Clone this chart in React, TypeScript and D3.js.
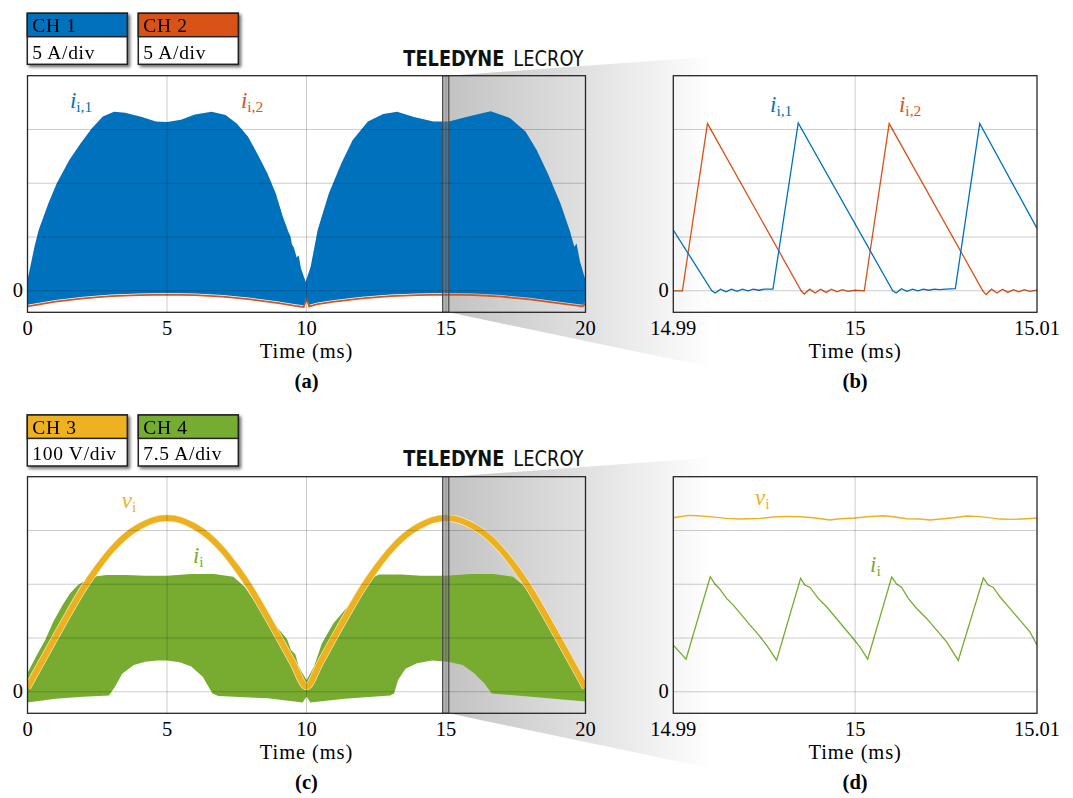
import React from "react";
import * as d3 from "d3";

const W = 1073, H = 798;

const BLUE = "#0072BD", ORANGE = "#D95319", YELLOW = "#EDB120", GREEN = "#77AC30";
const SERIF = "'Liberation Serif', 'Times New Roman', serif";

// ---------- panel (a): 0..20 ms, values in divisions ----------
const aUpperT = [0, 0.25, 0.4, 0.75, 1.05, 1.5, 1.9, 2.3, 2.7, 3.1, 3.5, 4.1, 4.6, 5.0, 5.5, 6.0, 6.6, 7.1, 7.5, 7.9, 8.3, 8.6, 8.9, 9.15, 9.35, 9.42, 9.48, 9.55, 9.65, 9.72, 9.8, 9.97, 10.15, 10.4, 10.8, 11.25, 11.65, 12.2, 12.75, 13.25, 13.85, 14.55, 15.1, 15.8, 16.6, 17.3, 17.85, 18.25, 18.65, 19.1, 19.45, 19.5, 19.6, 19.68, 19.8, 20];
const aUpperCh1 = [0.2, 0.82, 1.13, 1.63, 2.0, 2.43, 2.74, 3.02, 3.24, 3.33, 3.31, 3.23, 3.15, 3.14, 3.18, 3.28, 3.33, 3.27, 3.11, 2.87, 2.49, 2.18, 1.81, 1.38, 1.1, 1.02, 0.86, 0.8, 0.62, 0.66, 0.42, 0.17, 0.45, 1.13, 1.81, 2.37, 2.8, 3.15, 3.29, 3.33, 3.23, 3.15, 3.15, 3.24, 3.34, 3.21, 2.96, 2.62, 2.18, 1.63, 1.1, 1.0, 0.82, 0.88, 0.55, 0.2];
const aLowerT = [0, 1, 2, 3, 4, 5, 6, 7, 8, 9, 9.6, 9.9, 10, 10.1, 10.4, 11, 12, 13, 14, 15, 16, 17, 18, 19, 19.9, 20];
const aLowerCh1 = [-0.26, -0.17, -0.11, -0.07, -0.05, -0.04, -0.05, -0.08, -0.13, -0.2, -0.25, -0.27, -0.12, -0.26, -0.22, -0.17, -0.11, -0.07, -0.05, -0.04, -0.05, -0.08, -0.13, -0.2, -0.26, -0.2];
const aLowerCh2 = [-0.29, -0.2, -0.14, -0.1, -0.08, -0.07, -0.08, -0.11, -0.16, -0.23, -0.28, -0.3, -0.15, -0.29, -0.25, -0.2, -0.14, -0.1, -0.08, -0.07, -0.08, -0.11, -0.16, -0.23, -0.29, -0.23];

// ---------- panel (b): microseconds after 14.99 ms ----------
const bCh1T = [0, 2.12, 2.3, 2.6, 2.9, 3.2, 3.5, 3.8, 4.1, 4.4, 4.7, 5.0, 5.48, 6.87, 12.07, 12.25, 12.55, 12.85, 13.15, 13.45, 13.75, 14.05, 14.35, 14.65, 15.0, 15.51, 16.85, 20];
const bCh1 = [1.13, 0, -0.04, 0.03, -0.02, 0.03, -0.01, 0.03, 0, 0.03, 0.01, 0.03, 0.03, 3.12, 0, -0.04, 0.04, -0.01, 0.03, 0, 0.03, 0.01, 0.03, 0.02, 0.03, 0.04, 3.11, 1.16];
const bCh2T = [0, 0.5, 1.88, 7.03, 7.2, 7.5, 7.8, 8.1, 8.4, 8.7, 9.0, 9.3, 9.6, 10.0, 10.5, 11.87, 17.02, 17.2, 17.5, 17.8, 18.1, 18.4, 18.7, 19.0, 19.3, 19.6, 20];
const bCh2 = [0, 0, 3.11, 0, -0.06, 0.03, -0.04, 0.03, -0.03, 0.03, -0.02, 0.02, -0.01, 0.01, 0, 3.11, 0, -0.07, 0.03, -0.04, 0.03, -0.03, 0.02, -0.02, 0.02, -0.01, 0.01];

// ---------- panel (c): 0..20 ms ----------
const cUpperT = [0, 0.33, 0.63, 0.92, 1.22, 1.52, 1.82, 2.12, 2.48, 2.84, 3.54, 4.22, 5.0, 5.87, 6.69, 7.38, 7.79, 8.2, 8.62, 9.03, 9.3, 9.44, 9.6, 9.72, 10, 10.27, 10.55, 10.96, 11.37, 11.78, 12.2, 12.6, 13.4, 14.1, 15.0, 15.9, 16.7, 17.4, 17.84, 18.26, 18.67, 19.08, 19.5, 19.77, 20];
const cUpperI = [0.35, 0.68, 0.96, 1.3, 1.58, 1.83, 1.99, 2.08, 2.15, 2.17, 2.17, 2.16, 2.16, 2.19, 2.19, 2.14, 1.95, 1.64, 1.4, 1.15, 0.98, 0.78, 0.7, 0.47, 0.22, 0.47, 0.9, 1.27, 1.52, 1.77, 2.08, 2.18, 2.18, 2.16, 2.16, 2.19, 2.19, 2.14, 1.95, 1.64, 1.36, 1.02, 0.65, 0.34, 0.16];
const cLowerT = [0, 1.0, 2.0, 2.92, 3.13, 3.4, 3.81, 4.22, 4.64, 5.0, 5.46, 5.87, 6.28, 6.63, 6.84, 8.62, 9.86, 10, 10.14, 11.37, 13.0, 13.14, 13.28, 13.55, 13.96, 14.5, 15.07, 15.6, 16.02, 16.37, 16.64, 18.26, 20];
const cLowerI = [-0.2, -0.13, -0.09, -0.07, 0.09, 0.34, 0.5, 0.56, 0.58, 0.58, 0.55, 0.47, 0.28, -0.03, -0.08, -0.12, -0.2, -0.09, -0.2, -0.13, -0.07, -0.03, 0.22, 0.43, 0.53, 0.58, 0.56, 0.5, 0.34, 0.16, -0.03, -0.1, -0.18];
const cVT = [0, 0.5, 1, 1.5, 2, 2.5, 3, 3.5, 4, 4.5, 5, 5.5, 6, 6.5, 7, 7.5, 8, 8.5, 9, 9.5, 10, 10.5, 11, 11.5, 12, 12.5, 13, 13.5, 14, 14.5, 15, 15.5, 16, 16.5, 17, 17.5, 18, 18.5, 19, 19.5, 20];
const cV = [0.08, 0.55, 1.02, 1.48, 1.92, 2.3, 2.63, 2.89, 3.07, 3.19, 3.23, 3.19, 3.07, 2.89, 2.63, 2.3, 1.92, 1.48, 1.02, 0.55, 0.1, 0.55, 1.02, 1.48, 1.92, 2.3, 2.63, 2.89, 3.07, 3.19, 3.23, 3.19, 3.07, 2.89, 2.63, 2.3, 1.92, 1.48, 1.02, 0.55, 0.08];

// ---------- panel (d): microseconds after 14.99 ms ----------
const dVT = [0, 0.37, 0.82, 1.28, 1.83, 2.38, 2.93, 3.67, 4.22, 4.77, 5.5, 6.23, 6.97, 7.7, 8.62, 9.17, 10.01, 10.63, 11.55, 12.1, 12.83, 13.56, 14.11, 14.85, 15.4, 16.13, 16.68, 17.23, 17.96, 18.7, 19.43, 20];
const dV = [3.237, 3.256, 3.281, 3.274, 3.262, 3.243, 3.225, 3.212, 3.219, 3.225, 3.25, 3.262, 3.256, 3.237, 3.194, 3.219, 3.231, 3.256, 3.274, 3.256, 3.219, 3.212, 3.194, 3.219, 3.237, 3.268, 3.262, 3.243, 3.212, 3.206, 3.219, 3.231];
const dIT = [0, 0.7, 2.03, 2.29, 2.53, 2.93, 3.3, 3.76, 4.22, 4.67, 5.13, 5.68, 7.0, 7.24, 7.52, 7.97, 8.43, 8.89, 9.35, 9.81, 10.26, 10.69, 12.01, 12.28, 12.56, 12.92, 13.38, 13.93, 14.48, 15.03, 15.67, 17.05, 17.32, 17.6, 17.96, 18.51, 19.06, 19.61, 20];
const dI = [0.868, 0.608, 2.14, 2.003, 1.922, 1.736, 1.612, 1.426, 1.24, 1.067, 0.868, 0.589, 2.109, 1.984, 1.941, 1.736, 1.581, 1.395, 1.209, 1.023, 0.837, 0.608, 2.133, 2.003, 1.941, 1.736, 1.55, 1.364, 1.147, 0.93, 0.583, 2.115, 1.984, 1.941, 1.767, 1.55, 1.333, 1.116, 0.868];

// ---------- axes / labels ----------
const wideTicks = [0, 5, 10, 15, 20];
const zoomTicks = [0, 10, 20];
const zoomTickLabels = ["14.99", "15", "15.01"];
const gridDivs = [0, 1, 2, 3];
const zoomBand = [14.88, 15.1];
const chNamesTop = ["CH 1", "CH 2"];
const chScalesTop = ["5 A/div", "5 A/div"];
const chColorsTop = [BLUE, ORANGE];
const chNamesBot = ["CH 3", "CH 4"];
const chScalesBot = ["100 V/div", "7.5 A/div"];
const chColorsBot = [YELLOW, GREEN];

type Frame = { x0: number; x1: number; y0: number; y1: number };
type Sc = d3.ScaleLinear<number, number>;

const frameA: Frame = { x0: 27.5, x1: 585.5, y0: 75.7, y1: 312.3 };
const frameB: Frame = { x0: 673.3, x1: 1037, y0: 75.7, y1: 312.3 };
const frameC: Frame = { x0: 27.5, x1: 585.5, y0: 476.7, y1: 713.3 };
const frameD: Frame = { x0: 673.3, x1: 1037, y0: 476.7, y1: 713.3 };

const pairs = (t: number[], v: number[]) => t.map((d, i) => [d, v[i]] as [number, number]);

function Label({ x, y, base, sub, color }: { x: number; y: number; base: string; sub: string; color: string }) {
  return (
    <text x={x} y={y} fill={color} fontFamily={SERIF}>
      <tspan fontStyle="italic" fontSize={23}>{base}</tspan>
      <tspan fontSize={15.5} dy={4}>{sub}</tspan>
    </text>
  );
}

function Panel({ id, frame, domain, ticks, tickLabels, letter, children }: {
  id: string; frame: Frame; domain: [number, number]; ticks: number[]; tickLabels: string[];
  letter: string; children: (x: Sc, y: Sc) => React.ReactNode;
}) {
  const x = d3.scaleLinear().domain(domain).range([frame.x0, frame.x1]);
  const y = d3.scaleLinear().domain([-0.4, 4]).range([frame.y1, frame.y0]);
  const midX = (frame.x0 + frame.x1) / 2;
  return (
    <g>
      <clipPath id={id}>
        <rect x={frame.x0} y={frame.y0} width={frame.x1 - frame.x0} height={frame.y1 - frame.y0} />
      </clipPath>
      <g clipPath={`url(#${id})`}>{children(x, y)}</g>
      {gridDivs.map(g => (
        <line key={"h" + g} x1={frame.x0} x2={frame.x1} y1={y(g)} y2={y(g)} stroke="rgba(0,0,0,0.2)" strokeWidth={1} />
      ))}
      {ticks.slice(1, -1).map(t => (
        <line key={"v" + t} x1={x(t)} x2={x(t)} y1={frame.y0} y2={frame.y1} stroke="rgba(0,0,0,0.2)" strokeWidth={1} />
      ))}
      <rect x={frame.x0} y={frame.y0} width={frame.x1 - frame.x0} height={frame.y1 - frame.y0} fill="none" stroke="#262626" strokeWidth={1.3} />
      <text x={frame.x0 - 4.5} y={y(0) + 6.5} textAnchor="end" fontFamily={SERIF} fontSize={20.5}>0</text>
      {ticks.map((t, i) => (
        <text key={"t" + t} x={x(t)} y={frame.y1 + 22.5} textAnchor="middle" fontFamily={SERIF} fontSize={20.5}>{tickLabels[i]}</text>
      ))}
      <text x={midX} y={frame.y1 + 46} textAnchor="middle" fontFamily={SERIF} fontSize={20.5} letterSpacing={0.9}>Time (ms)</text>
      <text x={midX} y={frame.y1 + 76} textAnchor="middle" fontFamily={SERIF} fontSize={20.5} fontWeight="bold">({letter})</text>
    </g>
  );
}

function Legend({ top, names, scales, colors }: { top: number; names: string[]; scales: string[]; colors: string[] }) {
  const lefts = [27.3, 138.3];
  return (
    <g>
      {names.map((n, i) => (
        <g key={n} filter="url(#shadow)">
          <rect x={lefts[i]} y={top} width={100} height={51} fill="#fff" stroke="#222" strokeWidth={1.5} />
          <rect x={lefts[i]} y={top} width={100} height={23.4} fill={colors[i]} stroke="#222" strokeWidth={1.5} />
          <text x={lefts[i] + 5} y={top + 19} fontFamily={SERIF} fontSize={19.5} letterSpacing={0.7}>{n}</text>
          <text x={lefts[i] + 5} y={top + 45.3} fontFamily={SERIF} fontSize={19.5} letterSpacing={0.7}>{scales[i]}</text>
        </g>
      ))}
    </g>
  );
}

function Logo({ baseline }: { baseline: number }) {
  const ff = "'Liberation Sans Narrow', 'DejaVu Sans Condensed', 'Liberation Sans', sans-serif";
  return (
    <g fill="#111" fontFamily={ff} fontSize={17.5}>
      <g transform={`translate(403.3,${baseline}) scale(1,1.25)`}>
        <text x={0} y={0} fontWeight="bold" textLength={101} lengthAdjust="spacingAndGlyphs">TELEDYNE</text>
      </g>
      <g transform={`translate(513.3,${baseline}) scale(1,1.25)`}>
        <text x={0} y={0} textLength={70} lengthAdjust="spacingAndGlyphs">LECROY</text>
      </g>
    </g>
  );
}

function Funnel({ frame, gradId }: { frame: Frame; gradId: string }) {
  const xb = d3.scaleLinear().domain([0, 20]).range([frame.x0, frame.x1])(zoomBand[1]);
  const pts = [[xb, frame.y0], [730, frame.y0 - 20.5], [730, frame.y1 + 59], [xb, frame.y1]];
  return <path d={(d3.line()(pts as [number, number][]) || "") + "Z"} fill={`url(#${gradId})`} />;
}

function Band({ x, frame }: { x: Sc; frame: Frame }) {
  return (
    <rect x={x(zoomBand[0])} y={frame.y0} width={x(zoomBand[1]) - x(zoomBand[0])} height={frame.y1 - frame.y0}
      fill="rgba(120,120,120,0.55)" stroke="#4a4a4a" strokeWidth={1.2} />
  );
}

export default function App() {
  const poly = (x: Sc, y: Sc, up: [number, number][], low: [number, number][]) =>
    (d3.line<[number, number]>().x(d => x(d[0])).y(d => y(d[1]))(up.concat(low.slice().reverse())) || "") + "Z";
  const path = (x: Sc, y: Sc, p: [number, number][], curve: d3.CurveFactory = d3.curveLinear) =>
    d3.line<[number, number]>().x(d => x(d[0])).y(d => y(d[1])).curve(curve)(p) || "";

  return (
    <svg width={W} height={H} style={{ position: "absolute", left: 0, top: 0, background: "#fff" }}>
      <defs>
        {["gA", "gC"].map(gid => (
          <linearGradient key={gid} id={gid} gradientUnits="userSpaceOnUse" x1={448.7} x2={712} y1={0} y2={0}>
            <stop offset="0" stopColor="#c3c3c3" />
            <stop offset="0.55" stopColor="#e2e2e2" />
            <stop offset="1" stopColor="#ffffff" />
          </linearGradient>
        ))}
        <filter id="shadow" x="-10%" y="-10%" width="130%" height="140%">
          <feDropShadow dx={2.2} dy={2.2} stdDeviation={1.4} floodColor="#000" floodOpacity={0.55} />
        </filter>
      </defs>

      <Funnel frame={frameA} gradId="gA" />
      <Funnel frame={frameC} gradId="gC" />

      <Legend top={13.3} names={chNamesTop} scales={chScalesTop} colors={chColorsTop} />
      <Legend top={415} names={chNamesBot} scales={chScalesBot} colors={chColorsBot} />
      <Logo baseline={65.7} />
      <Logo baseline={466} />

      {/* (a) */}
      <Panel id="cpA" frame={frameA} domain={[0, 20]} ticks={wideTicks} tickLabels={wideTicks.map(String)} letter="a">
        {(x, y) => (
          <g>
            <path d={path(x, y, pairs(aLowerT, aLowerCh2))} fill="none" stroke={ORANGE} strokeWidth={1.8} />
            <path d={poly(x, y, pairs(aUpperT, aUpperCh1), pairs(aLowerT, aLowerCh1))} fill={BLUE} />
            <Band x={x} frame={frameA} />
            <Label x={x(1.52)} y={y(3.4)} base="i" sub="i,1" color={BLUE} />
            <Label x={x(7.65)} y={y(3.4)} base="i" sub="i,2" color={ORANGE} />
          </g>
        )}
      </Panel>

      {/* (b) */}
      <Panel id="cpB" frame={frameB} domain={[0, 20]} ticks={zoomTicks} tickLabels={zoomTickLabels} letter="b">
        {(x, y) => (
          <g>
            <path d={path(x, y, pairs(bCh2T, bCh2))} fill="none" stroke={ORANGE} strokeWidth={1.3} />
            <path d={path(x, y, pairs(bCh1T, bCh1))} fill="none" stroke={BLUE} strokeWidth={1.3} />
            <Label x={x(5.32)} y={y(3.33)} base="i" sub="i,1" color={BLUE} />
            <Label x={x(12.41)} y={y(3.33)} base="i" sub="i,2" color={ORANGE} />
          </g>
        )}
      </Panel>

      {/* (c) */}
      <Panel id="cpC" frame={frameC} domain={[0, 20]} ticks={wideTicks} tickLabels={wideTicks.map(String)} letter="c">
        {(x, y) => (
          <g>
            <path d={poly(x, y, pairs(cUpperT, cUpperI), pairs(cLowerT, cLowerI))} fill={GREEN} />
            <path d={path(x, y, pairs(cVT, cV), d3.curveMonotoneX)} fill="none" stroke="#fbeec8" strokeWidth={7.2} strokeLinejoin="round" />
            <path d={path(x, y, pairs(cVT, cV), d3.curveMonotoneX)} fill="none" stroke={YELLOW} strokeWidth={6} strokeLinejoin="round" />
            <Band x={x} frame={frameC} />
            <Label x={x(3.38)} y={y(3.42)} base="v" sub="i" color={YELLOW} />
            <Label x={x(5.93)} y={y(2.39)} base="i" sub="i" color={GREEN} />
          </g>
        )}
      </Panel>

      {/* (d) */}
      <Panel id="cpD" frame={frameD} domain={[0, 20]} ticks={zoomTicks} tickLabels={zoomTickLabels} letter="d">
        {(x, y) => (
          <g>
            <path d={path(x, y, pairs(dVT, dV))} fill="none" stroke={YELLOW} strokeWidth={1.4} />
            <path d={path(x, y, pairs(dIT, dI))} fill="none" stroke={GREEN} strokeWidth={1.3} />
            <Label x={x(4.49)} y={y(3.47)} base="v" sub="i" color={YELLOW} />
            <Label x={x(10.82)} y={y(2.23)} base="i" sub="i" color={GREEN} />
          </g>
        )}
      </Panel>
    </svg>
  );
}
